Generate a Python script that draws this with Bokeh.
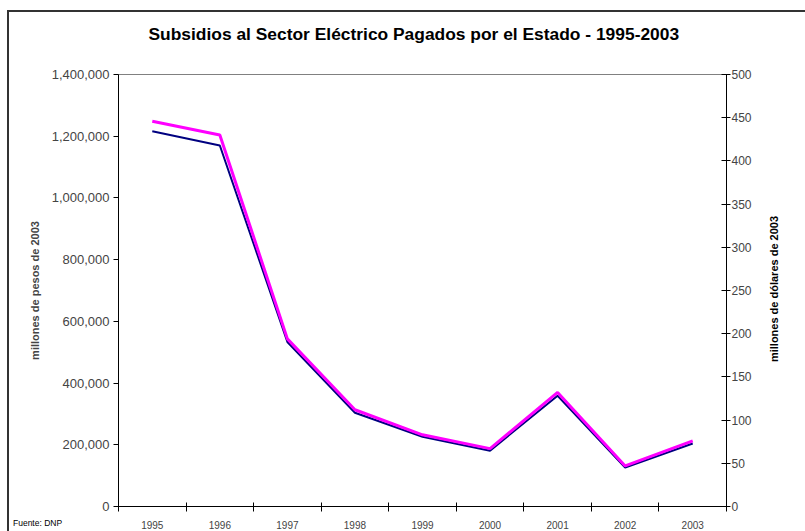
from bokeh.plotting import figure
from bokeh.models import (Range1d, LinearAxis, FixedTicker, NumeralTickFormatter,
                          ColumnDataSource, SingleIntervalTicker, Title, Div)
from bokeh.layouts import column
from bokeh.embed import file_html
from bokeh.resources import INLINE

years = ["1995", "1996", "1997", "1998", "1999", "2000", "2001", "2002", "2003"]
pesos = [1216000, 1170000, 533000, 304000, 226000, 181000, 359000, 126000, 204000]
dolares = [446, 430, 194, 112, 83, 67, 132, 47, 76]

title_text = "Subsidios al Sector Eléctrico Pagados por el Estado - 1995-2003"
left_label = "millones de pesos de 2003"
right_label = "millones de dólares de 2003"
source_text = "Fuente: DNP"

FONT = "Liberation Sans"

xpos = [i + 0.5 for i in range(len(years))]
src = ColumnDataSource(dict(x=xpos, pesos=pesos, dolares=dolares, year=years))

p = figure(width=800, height=519, output_backend="svg", toolbar_location=None,
           x_range=Range1d(0, len(years)), y_range=Range1d(0, 1400000),
           min_border_left=109, min_border_right=83, min_border_top=62,
           min_border_bottom=24, background_fill_color="white",
           border_fill_color="white")
p.xaxis.visible = False
p.yaxis.visible = False
p.xgrid.visible = False
p.ygrid.visible = False
p.outline_line_color = "#808080"
p.outline_line_width = 1

p.extra_y_ranges = {"usd": Range1d(0, 500)}

# spacer between frame and title, then the title itself
spacer = Title(text=" ", text_font_size="1px", standoff=27)
p.add_layout(spacer, "above")
t = Title(text=title_text, align="left", vertical_align="middle", text_font=FONT,
          text_font_style="bold", text_font_size="17.4px", text_color="black",
          standoff=0, offset=30)
p.add_layout(t, "above")

# left axis
ly = LinearAxis(ticker=SingleIntervalTicker(interval=200000, num_minor_ticks=0),
                formatter=NumeralTickFormatter(format="0,0"))
ly.axis_label = left_label
ly.axis_label_text_font = FONT
ly.axis_label_text_font_style = "bold"
ly.axis_label_text_font_size = "11px"
ly.axis_label_standoff = 8
ly.major_label_text_font = FONT
ly.major_label_text_font_size = "13px"
ly.major_label_standoff = 4
ly.major_tick_in = 0
ly.major_tick_out = 5
ly.minor_tick_line_color = None
ly.axis_line_color = "black"
ly.major_tick_line_color = "black"
p.add_layout(ly, "left")

# right axis
ry = LinearAxis(y_range_name="usd",
                ticker=SingleIntervalTicker(interval=50, num_minor_ticks=0))
ry.major_label_text_font = FONT
ry.major_label_text_font_size = "12px"
ry.major_label_standoff = 1
ry.major_tick_in = 5
ry.major_tick_out = 4
ry.minor_tick_line_color = None
ry.axis_line_color = "black"
ry.major_tick_line_color = "black"
p.add_layout(ry, "right")

# bottom axis: labels at centers, ticks at boundaries
bx = LinearAxis(ticker=FixedTicker(ticks=xpos, minor_ticks=list(range(len(years) + 1))))
bx.major_label_overrides = {x: y for x, y in zip(xpos, years)}
bx.major_label_text_font = FONT
bx.major_label_text_font_size = "10px"
bx.major_tick_line_color = None
bx.major_tick_in = 0
bx.major_tick_out = 0
bx.major_label_standoff = 9
bx.minor_tick_line_color = "black"
bx.minor_tick_in = 4
bx.minor_tick_out = 5
bx.axis_line_color = "black"
p.add_layout(bx, "below")

p.line("x", "pesos", source=src, line_color="#000080", line_width=2)
p.line("x", "dolares", source=src, y_range_name="usd", line_color="#FF00FF", line_width=3)

note = Div(text=source_text, margin=0,
           styles={"position": "absolute", "left": "4px", "top": "506px",
                   "font-family": FONT, "font-size": "8.5px", "line-height": "10px",
                   "color": "black", "white-space": "nowrap"})

right_title = Div(text=right_label, margin=0, width=170, height=14,
                  styles={"position": "absolute", "left": "680px", "top": "270px",
                          "width": "170px", "height": "14px",
                          "font-family": FONT, "font-size": "11px", "font-weight": "bold",
                          "line-height": "14px", "text-align": "center",
                          "color": "black", "white-space": "nowrap",
                          "transform": "rotate(-90deg)", "transform-origin": "50% 50%"})

layout = column(p, note, right_title, margin=(10, 0, 0, 7),
                styles={"border-left": "2px solid #333", "border-top": "2px solid #333"})

open("out.html", "w").write(file_html(layout, INLINE))
